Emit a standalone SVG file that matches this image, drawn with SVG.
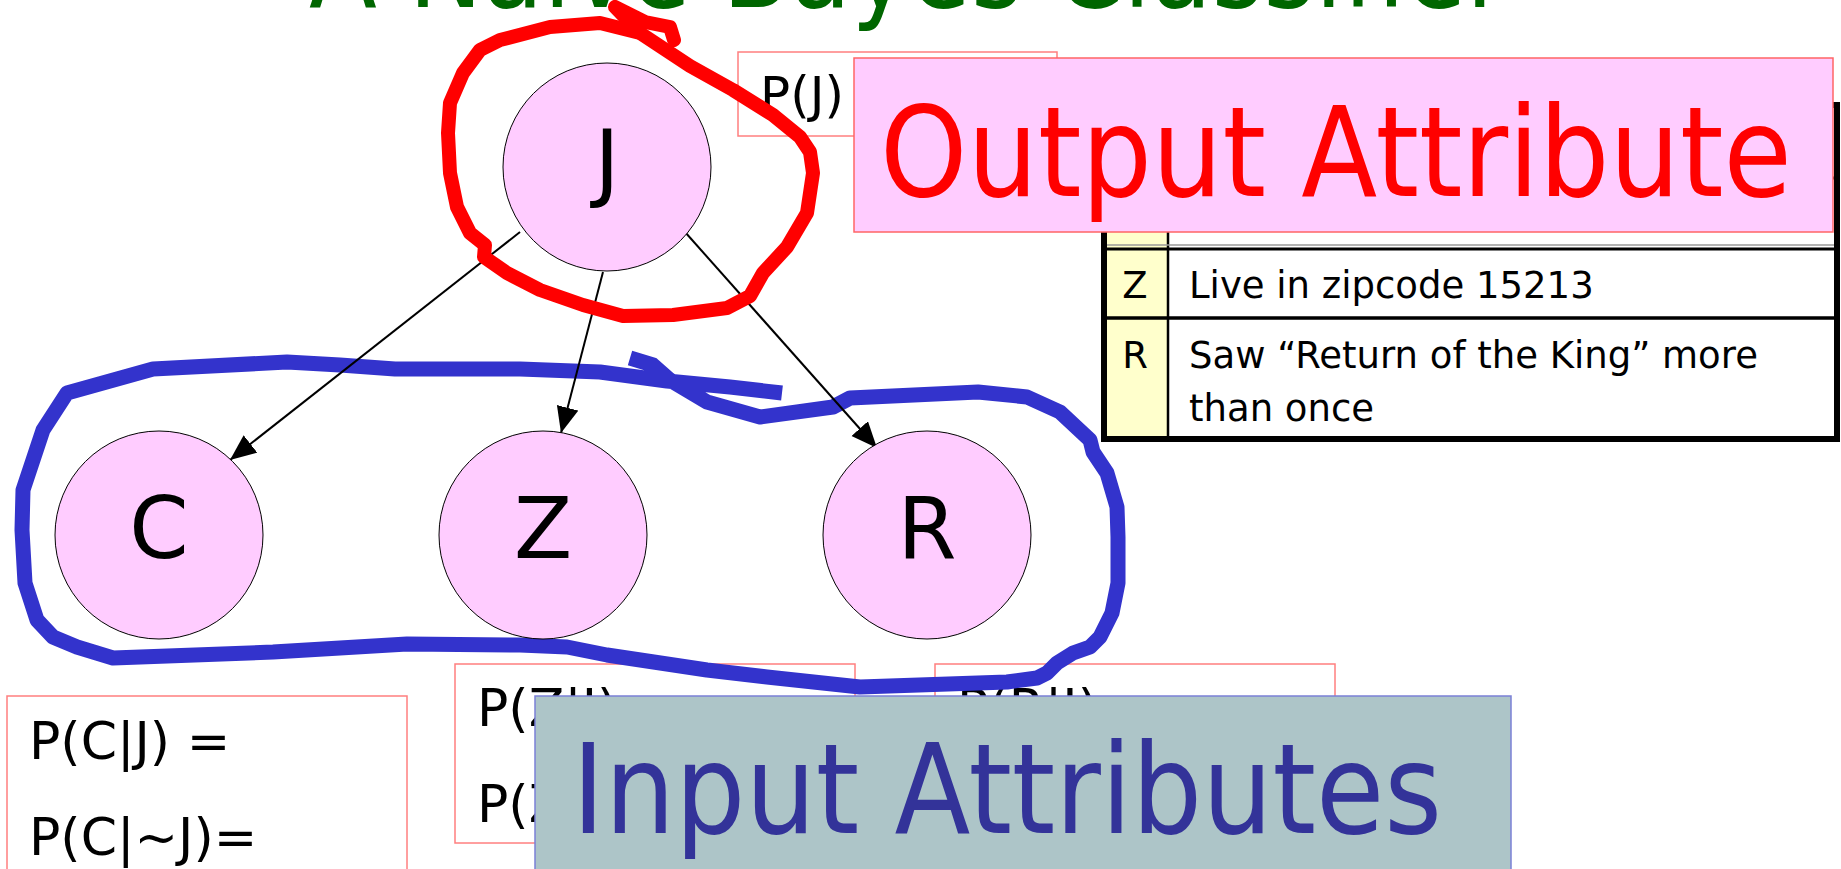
<svg xmlns="http://www.w3.org/2000/svg" width="1841" height="869" viewBox="0 0 1841 869">
<defs>
<style>
text { font-family: "DejaVu Sans", Verdana, sans-serif; }
.node { fill: #FFCCFF; stroke: #000; stroke-width: 1; }
.nlabel { font-size: 85px; fill: #000; text-anchor: middle; }
.cpt { fill: #FFFFFF; stroke: #FF7F7F; stroke-width: 1.5; }
.cptt { font-size: 52px; fill: #000; }
.edge { stroke: #000; stroke-width: 2; fill: none; marker-end: url(#arrow); }
.tt { font-size: 37px; fill: #000; }
.tl { font-size: 37px; fill: #000; text-anchor: middle; }
.big { font-size: 125px; }
</style>
<marker id="arrow" markerUnits="userSpaceOnUse" markerWidth="27" markerHeight="23" refX="26" refY="11" orient="auto">
<path d="M0,0 L26,11 L0,22 z" fill="#000"/>
</marker>
</defs>
<rect x="0" y="0" width="1841" height="869" fill="#FFFFFF"/>

<text id="title" x="309" y="7" font-size="114" fill="#006600" textLength="1198" lengthAdjust="spacingAndGlyphs">A Naive Bayes Classifier</text>

<g id="cpt-J">
<rect class="cpt" x="738" y="52" width="319" height="84"/>
<text class="cptt" x="760" y="112" style="font-size:50px">P(J) =</text>
</g>
<g id="cpt-C">
<rect class="cpt" x="7" y="696" width="400" height="200"/>
<text class="cptt" x="29" y="759">P(C|J) =</text>
<text class="cptt" x="29" y="855">P(C|~J)=</text>
</g>
<g id="cpt-Z">
<rect class="cpt" x="455" y="664" width="400" height="179"/>
<text class="cptt" x="477" y="726">P(Z|J) =</text>
<text class="cptt" x="477" y="822">P(Z|~J)=</text>
</g>
<g id="cpt-R">
<rect class="cpt" x="935" y="664" width="400" height="179"/>
<text class="cptt" x="957" y="726">P(R|J) =</text>
<text class="cptt" x="957" y="822">P(R|~J)=</text>
</g>

<g id="legend-table">
<rect x="1104" y="105" width="64" height="334" fill="#FFFFCC"/>
<rect x="1168" y="105" width="669" height="334" fill="#FFFFFF"/>
<line x1="1168" y1="105" x2="1168" y2="439" stroke="#000" stroke-width="2.5"/>
<line x1="1104" y1="178" x2="1837" y2="178" stroke="#000" stroke-width="3"/>
<line x1="1104" y1="245" x2="1837" y2="245" stroke="#999" stroke-width="1.5"/>
<line x1="1104" y1="249" x2="1837" y2="249" stroke="#000" stroke-width="3"/>
<line x1="1104" y1="318" x2="1837" y2="318" stroke="#000" stroke-width="3.5"/>
<rect x="1104" y="105" width="733" height="334" fill="none" stroke="#000" stroke-width="6"/>
<text class="tl" x="1135" y="298">Z</text>
<text class="tt" x="1189" y="298">Live in zipcode 15213</text>
<text class="tl" x="1135" y="368">R</text>
<text class="tt" x="1189" y="368">Saw “Return of the King” more</text>
<text class="tt" x="1189" y="421">than once</text>
</g>

<g id="input-loop" fill="none" stroke="#3333CC" stroke-width="15" stroke-linejoin="round" stroke-linecap="butt">
<path d="M630,358 L653,365 L670,380 L707,402 L760,417 L833,407 L850,398 L978,392 L1027,397 L1060,412 L1090,440 L1093,452 L1107,473 L1117,507 L1118,537 L1118,583 L1112,613 L1100,637 L1090,647 L1073,653 L1057,663 L1047,673 L1037,678 L1007,682 L860,687 L767,677 L707,670 L607,655 L567,647 L520,645 L407,644 L273,652 L113,658 L77,647 L53,637 L37,620 L25,583 L22,530 L23,490 L43,430 L67,393 L153,369 L287,362 L340,365 L395,369 L520,369 L600,372 L667,381 L730,387 L782,393"/>
</g>

<g id="connectors">
<line class="edge" x1="520" y1="232" x2="230" y2="460"/>
<line class="edge" x1="603" y1="272" x2="561" y2="433"/>
<line class="edge" x1="685" y1="232" x2="877" y2="448"/>
</g>

<g id="node-J">
<circle class="node" cx="607" cy="167" r="104"/>
<text class="nlabel" x="607" y="191">J</text>
</g>
<g id="node-C">
<circle class="node" cx="159" cy="535" r="104"/>
<text class="nlabel" x="159" y="558">C</text>
</g>
<g id="node-Z">
<circle class="node" cx="543" cy="535" r="104"/>
<text class="nlabel" x="543" y="558">Z</text>
</g>
<g id="node-R">
<circle class="node" cx="927" cy="535" r="104"/>
<text class="nlabel" x="927" y="558">R</text>
</g>

<g id="output-loop" fill="none" stroke="#FF0000" stroke-width="14" stroke-linejoin="round" stroke-linecap="round">
<path d="M640,33 L690,66 L733,90 L773,115 L800,137 L810,152 L813,173 L807,213 L787,247 L763,273 L750,296 L727,308 L673,315 L623,316 L583,305 L540,290 L507,273 L484,257 L485,245 L470,233 L457,207 L450,173 L448,133 L450,103 L463,73 L480,50 L500,40 L550,27 L600,23 L640,33"/>
<path d="M640,33 L615,7 L645,22 L670,27 L674,40"/>
</g>

<g id="output-label">
<rect x="854" y="58" width="979" height="174" fill="#FFCCFF" stroke="#FF6666" stroke-width="1.5"/>
<text class="big" x="880" y="196" fill="#FF0000" textLength="912" lengthAdjust="spacingAndGlyphs">Output Attribute</text>
</g>

<g id="input-label">
<rect x="535" y="696" width="976" height="200" fill="#ADC5C8" stroke="#7B80D6" stroke-width="1.5"/>
<text class="big" x="572" y="833" fill="#333399" textLength="870" lengthAdjust="spacingAndGlyphs">Input Attributes</text>
</g>
</svg>
